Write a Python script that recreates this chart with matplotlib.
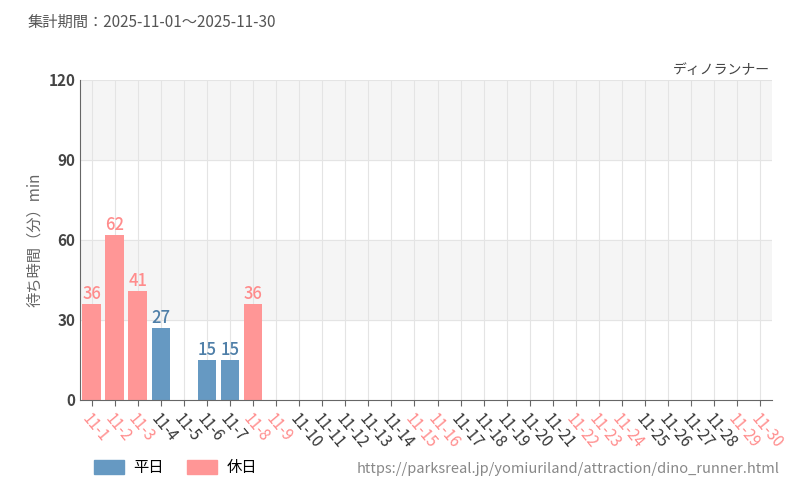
import matplotlib.pyplot as plt
from matplotlib.patches import Patch

plt.rcParams['font.family'] = ['Noto Sans CJK JP', 'DejaVu Sans']

days = [f"11-{d}" for d in range(1, 31)]
waits = [36, 62, 41, 27, None, 15, 15, 36] + [None] * 22
holidays = [1, 2, 3, 8, 9, 15, 16, 22, 23, 24, 29, 30]

blue = '#6699c2'
pink = '#ff9696'
red_txt = '#ff8c8c'

fig = plt.figure(figsize=(8, 5), dpi=100)
ax = fig.add_axes([0.1, 0.2, 0.865, 0.64])

ax.axhspan(30, 60, color='#f5f5f5', zorder=0)
ax.axhspan(90, 120, color='#f5f5f5', zorder=0)
for y in [30, 60, 90, 120]:
    ax.axhline(y, color='#e4e4e4', lw=0.8, zorder=1)
for i in range(len(days)):
    ax.axvline(i, color='#e4e4e4', lw=0.8, zorder=1)

for i, v in enumerate(waits):
    if v is None:
        continue
    hol = (i + 1) in holidays
    c = pink if hol else blue
    ax.bar(i, v, width=0.8, color=c, zorder=2)
    ax.text(i, v + 0.3, str(v), ha='center', va='bottom', fontsize=12,
            color=red_txt if hol else '#4f7fa8', family='Noto Sans CJK JP',
            fontweight='medium', zorder=3, transform=ax.transData)
    ax.texts[-1].set_fontstretch('condensed')

ax.set_xlim(-0.5, 29.5)
ax.set_ylim(0, 120)
ax.set_yticks([0, 30, 60, 90, 120])
ax.tick_params(axis='y', labelsize=11, colors='#444', length=0)
for lab in ax.get_yticklabels():
    lab.set_fontweight('bold')
ax.set_xticks(range(len(days)))
ax.set_xticklabels(days, rotation=-50, ha='left', rotation_mode='anchor', fontsize=11)
for i, lab in enumerate(ax.get_xticklabels()):
    lab.set_color(red_txt if (i + 1) in holidays else '#333')
ax.tick_params(axis='x', length=4, color='#666')
for s in ['top', 'right']:
    ax.spines[s].set_visible(False)
ax.spines['left'].set_color('#666')
ax.spines['bottom'].set_color('#666')
ax.set_ylabel('待ち時間（分）min', fontsize=11, color='#666')

fig.text(0.035, 0.955, '集計期間：2025-11-01～2025-11-30', fontsize=11, color='#555', va='center')
fig.text(0.963, 0.86, 'ディノランナー', fontsize=10, color='#444', ha='right', va='center')
fig.text(0.975, 0.063, 'https://parksreal.jp/yomiuriland/attraction/dino_runner.html',
         fontsize=10.5, color='#888', ha='right', va='center')
fig.legend(handles=[Patch(color=blue, label='平日'), Patch(color=pink, label='休日')],
           loc='center left', bbox_to_anchor=(0.1, 0.065), ncol=2, frameon=False,
           fontsize=11, handlelength=2.0, handleheight=1.0, handletextpad=0.6,
           columnspacing=1.5)

fig.savefig('out.png')
